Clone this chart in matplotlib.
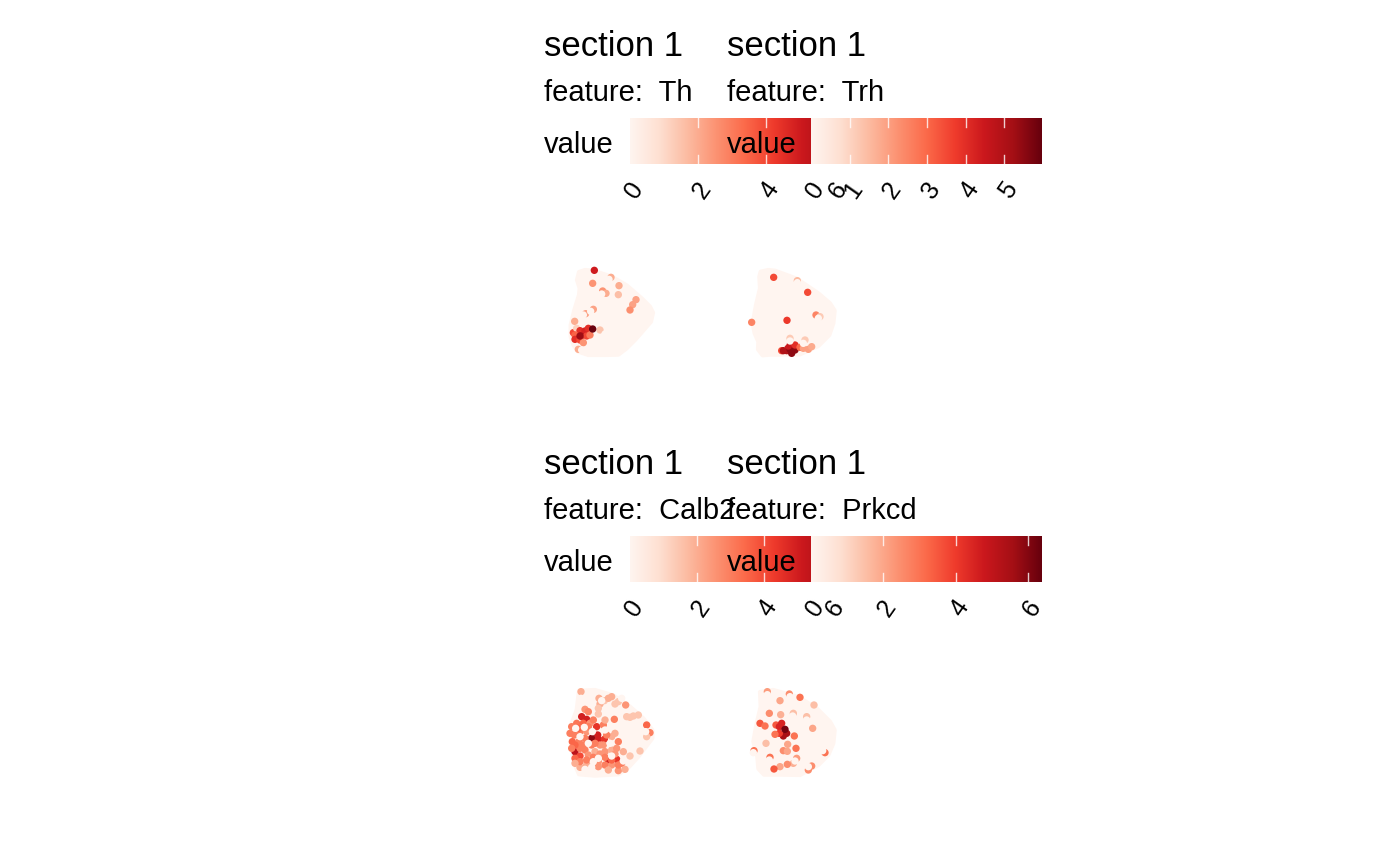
import matplotlib
matplotlib.use('Agg')
import matplotlib.pyplot as plt
import numpy as np
from matplotlib.patches import Polygon

plt.rcParams['font.family'] = ['Liberation Sans', 'DejaVu Sans']

features = ['Th', 'Trh', 'Calb2', 'Prkcd']
legend_max = [6.76, 5.98, 6.87, 6.38]
legend_ticks = [[0, 2, 4, 6], [0, 1, 2, 3, 4, 5], [0, 2, 4, 6], [0, 2, 4, 6]]

# tissue outlines
th_outline = [(72,36),(90,30),(115,32),(170,50),(215,76),(260,115),(285,140),(294,158),(288,185),(262,215),(240,240),
              (215,265),(190,284),(150,285),(100,285),(70,275),(55,255),(47,230),(47,195),(58,150),(72,105),(74,85),(66,60)]
trh_outline = [(62,35),(85,30),(105,32),(170,56),(235,100),(270,130),(284,152),(280,190),(268,225),(235,258),(180,283),
               (120,284),(90,284),(68,286),(54,268),(55,245),(44,220),(38,190),(48,135),(60,85),(58,50)]
calb2_outline = [(72,32),(120,30),(175,46),(225,80),(265,115),(292,150),(292,175),(250,230),(220,263),(190,283),
                 (120,287),(72,283),(58,250),(47,190),(50,130),(65,90)]
prkcd_outline = [(60,36),(100,30),(175,51),(230,85),(270,125),(284,150),(280,190),(265,225),(235,255),(180,285),(120,284),
                 (72,284),(55,266),(52,230),(40,185),(50,130),(62,80)]

# spots: x, y, value (drawn in this order, zeros hide what is under them)
th_spots = [(118,31,5),(168,52,2),(113,70,2.5),(192,77,2),(143,93,2.5),(153,100,2),(190,104,1.6),(243,119,2.2),
            (233,134,2.2),(225,150,2.6),(115,148,2.2),(92,161,2.2),(59,184,2),(55,218,4),(65,205,1.2),(75,212,4.5),
            (90,213,4.8),(100,205,4.5),(60,225,3.5),(60,238,4.5),(78,228,5.5),(95,228,4),(75,240,4),(85,248,2.5),
            (105,225,3),(70,268,2),(135,210,1.5),(113,207,6.7),(75,228,6),(107,154,0),(162,58,0),(80,270,0),(150,222,0),
            (85,165,0),(140,102,0)]
trh_spots = [(101,52,3.5),(172,62,1.5),(203,97,3.5),(141,181,3.8),(228,165,2.5),(240,170,1.2),(35,187,2.5),
             (125,272,3.5),(130,272,5),(140,272,5),(150,268,5.5),(165,270,5.5),(155,280,5.5),(145,258,4.5),(165,255,4),
             (180,262,3),(190,265,2),(205,268,2),(215,260,1.8),(195,240,1.2),(150,235,1.2),
             (172,68,0),(150,243,0),(190,250,0),(130,248,0),(235,175,0)]
calb2_spots = [(78,35,2),(132,55,2),(170,50,2),(148,62,1.5),(135,72,2),(190,65,1.5),(212,75,2.5),(90,88,2.5),(100,95,2.8),
               (80,110,5),(95,118,5),(130,102,1.5),(178,118,3),(215,110,1.5),(235,108,1.5),(250,105,1.5),(65,130,3.2),
               (85,130,3.5),(105,130,2.5),(125,140,4.5),(50,140,3),(58,165,3),(75,155,3),(95,155,2.5),(128,165,5),
               (110,175,6.3),(130,178,5),(148,178,4.5),(90,175,3),(52,185,3.5),(72,185,3),(110,195,3),(135,195,2.5),
               (170,170,2),(190,185,3),(60,215,5.5),(75,205,3),(90,210,3),(75,228,4),(60,235,3.5),(100,225,2.5),(120,215,2),
               (150,215,2.5),(170,210,2),(185,205,2.5),(160,240,5),(185,238,4.5),(200,250,3),(150,255,3),(170,255,2.5),
               (105,240,1.8),(130,260,2.5),(75,262,2),(95,255,2),(190,272,2.5),(210,268,2),(255,213,1.5),(275,135,3.5),
               (285,158,3),(275,170,1.5),(225,228,1.5),
               (115,120,3),(70,145,3.5),(100,140,3),(145,135,3),(45,160,3),(60,195,3.5),(85,195,3),(120,190,3),
               (145,195,2.5),(155,165,3),(180,160,2),(50,205,3),(95,240,3),(135,222,2.5),(115,232,3),(150,232,3),
               (180,222,2.5),(205,215,2),(75,245,3),(60,250,2),(130,245,2.5),(170,240,3.5),(190,255,3),(160,270,2),
               (225,112,1.5),(130,85,1.5),(180,72,1.5),(160,55,2),(150,120,2),
               (62,145,0),(88,142,0),(112,155,0),(150,150,0),(75,170,0),(100,190,0),(165,190,0),(115,245,0),
               (90,268,0),(110,262,0),(205,243,0),(170,228,0),(130,235,0),(272,155,0),(78,55,0),(140,62,0),(200,55,0)]
prkcd_spots = [(82,35,2.2),(148,42,2.5),(180,52,3),(120,62,2),(88,100,2.5),(122,104,1.8),(160,100,1.5),(200,110,1.5),
               (60,130,3.5),(75,138,3),(218,145,2),(108,135,3.5),(118,140,4.5),(125,130,4.5),(130,168,5.5),(118,160,4),
               (105,163,3),(163,168,3),(143,193,2),(130,212,2.5),(142,214,2),(168,205,3),(42,212,3),(78,190,1.5),
               (90,232,3),(255,218,3),(170,235,2.2),(160,250,1.8),(142,253,2.5),(120,260,2),(102,267,3.5),(215,258,2.5),
               (205,270,2.5),(222,75,1.5),(140,160,5.5),(135,148,6.2),(40,218,0),(82,44,0),(150,50,0),(158,108,0),(200,120,0),
               (248,212,0),(205,260,0),(88,240,0),(165,243,0)]

outlines = [th_outline, trh_outline, calb2_outline, prkcd_outline]
spots = [th_spots, trh_spots, calb2_spots, prkcd_spots]

W, H = 1400, 866
fig = plt.figure(figsize=(14, 8.66), dpi=100)
cmap = plt.get_cmap('Reds')


def add_axes_px(x0, y0, x1, y1):
    return fig.add_axes([x0 / W, 1 - y1 / H, (x1 - x0) / W, (y1 - y0) / H])


def text_px(x, y, s, **kw):
    fig.text(x / W, 1 - y / H, s, **kw)


for i, feature in enumerate(features):
    left = 544 if i % 2 == 0 else 727
    top = 0 if i < 2 else 418
    bar_left = 630 if i % 2 == 0 else 811
    bar_right = 860 if i % 2 == 0 else 1042

    text_px(left, 56 + top, 'section 1', fontsize=25, color='black', va='baseline')
    text_px(left, 101 + top, 'feature:  ' + feature, fontsize=21, color='black', va='baseline')

    bar = add_axes_px(bar_left, 118 + top, bar_right, 164 + top)
    gradient = np.linspace(0, 1, 256).reshape(1, -1)
    bar.imshow(gradient, cmap=cmap, aspect='auto', extent=[0, legend_max[i], 0, 1])
    for t in legend_ticks[i]:
        if t > 0:
            bar.plot([t, t], [0, 0.2], color='white', lw=1, alpha=0.8)
            bar.plot([t, t], [0.8, 1], color='white', lw=1, alpha=0.8)
    bar.set_xlim(0, legend_max[i])
    bar.set_ylim(0, 1)
    bar.axis('off')

    text_px(left, 145 + top, 'value', fontsize=21, color='black', va='center', zorder=5)
    per_unit = (bar_right - bar_left) / legend_max[i]
    for t in legend_ticks[i]:
        text_px(bar_left + t * per_unit + 4, 190 + top, str(t), fontsize=18, rotation=55,
                ha='center', va='center', color='black')

    ox = 555 if i % 2 == 0 else 740
    oy = 260 if i < 2 else 680
    ax = add_axes_px(ox, oy, ox + 110, oy + 105)
    ax.add_patch(Polygon(outlines[i], closed=True, facecolor=cmap(0.0), edgecolor=cmap(0.0), lw=3, joinstyle='round'))
    xs = [p[0] for p in spots[i]]
    ys = [p[1] for p in spots[i]]
    vals = [p[2] for p in spots[i]]
    ax.scatter(xs, ys, c=vals, s=28, cmap=cmap, vmin=0, vmax=legend_max[i], linewidths=0)
    ax.set_xlim(0, 330)
    ax.set_ylim(315, 0)
    ax.axis('off')

fig.savefig('out.png', dpi=100)
